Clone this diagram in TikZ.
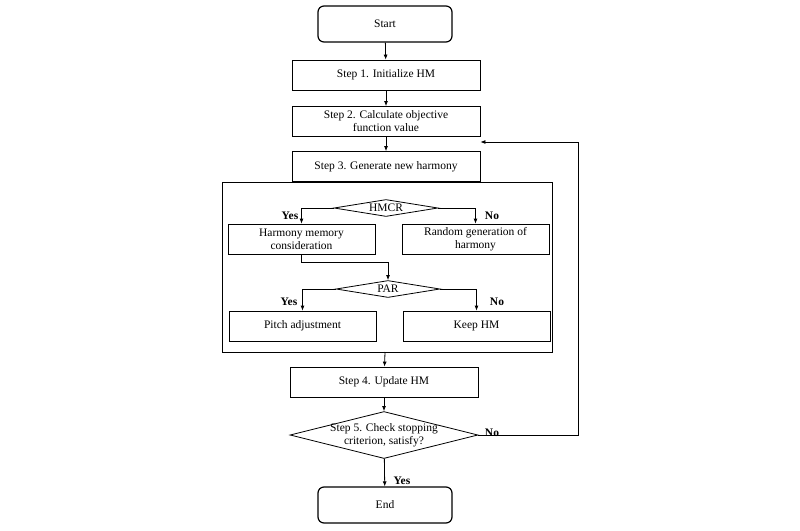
\documentclass[tikz,border=0pt]{standalone}
\usepackage{fontspec}
\setmainfont{Liberation Serif}
\usetikzlibrary{shapes.geometric,arrows.meta}
\begin{document}
\begin{tikzpicture}[x=1pt,y=-1pt,font=\fontsize{11.5}{13}\selectfont,
 box/.style={draw,thick,minimum width=188pt,minimum height=30pt,inner sep=1pt,align=center},
 sbox/.style={draw,thick,minimum width=147pt,minimum height=30pt,inner sep=1pt,align=center},
 term/.style={draw,very thick,rounded corners=6pt,minimum width=134pt,minimum height=36pt},
 dia/.style={draw,thick,diamond,aspect=6,inner sep=0pt,minimum width=104pt,minimum height=17pt},
 arr/.style={-{Latex[length=5pt,width=4pt]},thick},
 lab/.style={font=\fontsize{11.5}{13}\selectfont\bfseries}]
\useasboundingbox (0,0) rectangle (800,530);
\node[term] (start) at (385,24) {Start};
\node[box] (s1) at (386,75) {Step 1. Initialize HM};
\node[box] (s2) at (386,121.5) {Step 2. Calculate objective\\function value};
\node[box] (s3) at (386,166.5) {Step 3. Generate new harmony};
\draw[thick] (222,182) rectangle (552,352);
\coordinate (bb) at (385,352);
\node[dia] (hmcr) at (386,208) {HMCR};
\node[sbox] (hm) at (301.5,239) {Harmony memory\\consideration};
\node[sbox] (rg) at (475.5,239) {Random generation of\\harmony};
\node[dia] (par) at (388,289) {PAR};
\node[sbox] (pa) at (302.5,326) {Pitch adjustment};
\node[sbox] (kh) at (476.5,326) {Keep HM};
\node[box] (s4) at (384,382) {Step 4. Update HM};
\node[draw,thick,diamond,aspect=4,inner sep=0pt,minimum width=188pt,minimum height=47pt] (s5) at (384,435) {};
\node[align=center] (s5t) at (s5.center) {Step 5. Check stopping\\criterion, satisfy?};
\node[term] (end) at (385,505) {End};
\draw[arr] (start) -- (s1);
\draw[arr] (s1) -- (s2);
\draw[arr] (s2) -- (s3);
\draw[arr] (hmcr.west) -| (hm.north);
\draw[arr] (hmcr.east) -| (rg.north);
\draw[arr] (hm.south) -- ++(0,8) -| (par.north);
\draw[arr] (par.west) -| (pa.north);
\draw[arr] (par.east) -| (kh.north);
\draw[arr] (bb) -- (s4);
\draw[arr] (s4) -- (s5);
\draw[arr] (s5) -- (end);
\draw[arr] (s5.east) -- (578,435) |- (s2.east |- 0,142);
\node[lab] at (290,216) {Yes};
\node[lab] at (492,216) {No};
\node[lab] at (289,302) {Yes};
\node[lab] at (497,302) {No};
\node[lab] at (492,433) {No};
\node[lab] at (402,481) {Yes};
\end{tikzpicture}
\end{document}
